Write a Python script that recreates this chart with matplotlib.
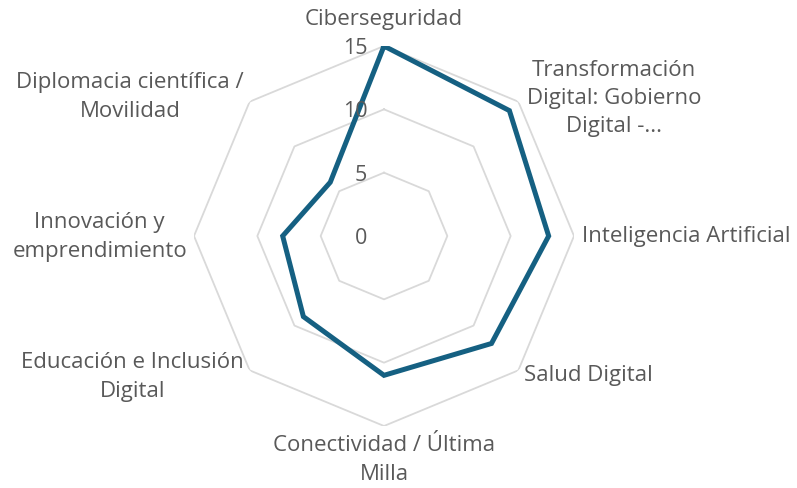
import numpy as np
import matplotlib
matplotlib.use("Agg")
from matplotlib import pyplot as plt

# Data
categories = ["Ciberseguridad",
              "Transformación\nDigital: Gobierno\nDigital -...",
              "Inteligencia Artificial",
              "Salud Digital",
              "Conectividad / Última\nMilla",
              "Educación e Inclusión\nDigital",
              "Innovación y\nemprendimiento",
              "Diplomacia científica /\nMovilidad"]
values = [15, 14, 13, 12, 11, 9, 8, 6]
ring_values = [5, 10, 15]
tick_labels = ["0", "5", "10", "15"]

plt.rcParams['font.family'] = ['Open Sans', 'DejaVu Sans']
text_color = '#595959'
line_color = '#156082'
grid_color = '#d9d9d9'

fig = plt.figure(figsize=(7.97, 4.89), dpi=100)
# center at (384, 237), outer radius 190 px
cx, cy, r = 384 / 797, 1 - 237 / 489, 190
ax = fig.add_axes([cx - r / 797, cy - r / 489, 2 * r / 797, 2 * r / 489], projection='polar')
ax.set_theta_offset(np.pi / 2)
ax.set_theta_direction(-1)
ax.set_ylim(0, 15)
ax.grid(False)
ax.spines['polar'].set_visible(False)
ax.set_xticks([])
ax.set_yticks([])
ax.patch.set_alpha(0)

n = len(categories)
angles = np.linspace(0, 2 * np.pi, n, endpoint=False)
closed = np.append(angles, angles[0])

# octagon gridlines
for rv in ring_values:
    ax.plot(closed, [rv] * (n + 1), color=grid_color, lw=1.3, zorder=1)

# data line
ax.plot(closed, values + values[:1], color=line_color, lw=3.6, zorder=3,
        solid_joinstyle='miter')

# radial tick labels
for i, lab in enumerate(tick_labels):
    ax.annotate(lab, xy=(0, i * 5), xytext=(-12, -1), textcoords='offset points',
                ha='right', va='center', fontsize=15.5, color=text_color,
                annotation_clip=False)

# category labels
aligns = [('center', 'bottom'), ('left', 'center'), ('left', 'center'), ('left', 'center'),
          ('center', 'top'), ('right', 'center'), ('right', 'center'), ('right', 'center')]
offsets = [(0, 12), (6, 3), (6, 0), (4, -3), (0, -6), (-4, -4), (-5, 0), (-4, 4)]
for ang, lab, (ha, va), off in zip(angles, categories, aligns, offsets):
    ax.annotate(lab, xy=(ang, 15), xytext=off, textcoords='offset points',
                ha=ha, va=va, multialignment='center', fontsize=16,
                color=text_color, annotation_clip=False, linespacing=1.45)

fig.savefig("out.png", dpi=100)
